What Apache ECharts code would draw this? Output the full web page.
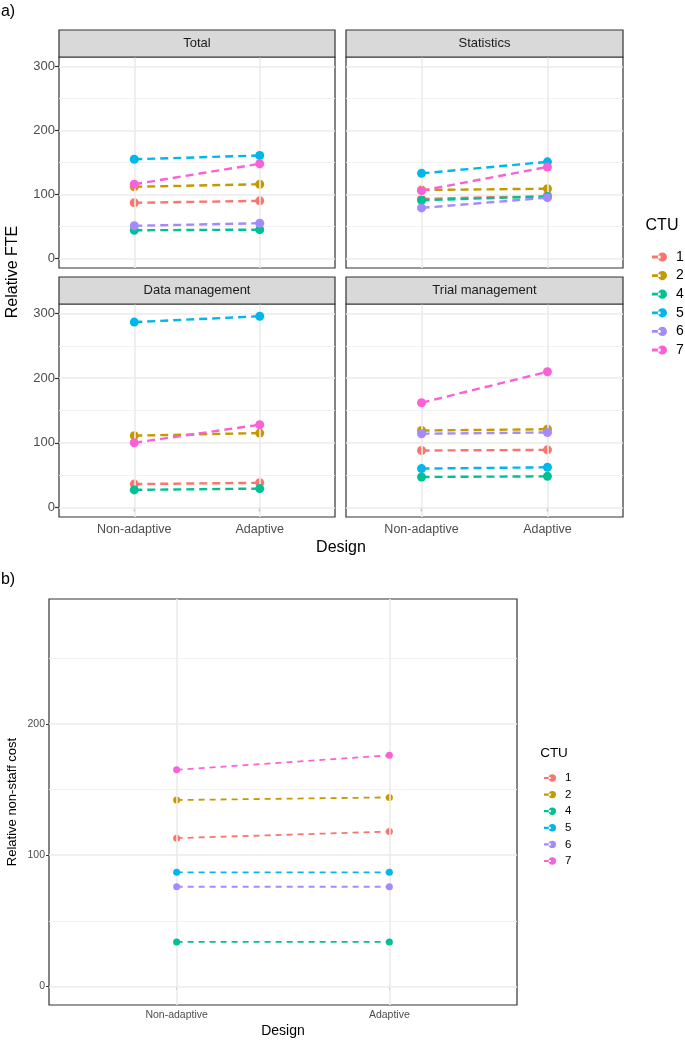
<!DOCTYPE html>
<html>
<head>
<meta charset="utf-8">
<script src="https://cdn.jsdelivr.net/npm/echarts@6/dist/echarts.min.js"></script>
<style>
html,body{margin:0;padding:0;background:#fff;}
#chart{width:685px;height:1040px;}
</style>
</head>
<body>
<div id="chart"></div>
<script>
// ---- data ----
const ctus = ['1', '2', '4', '5', '6', '7'];
const designs = ['Non-adaptive', 'Adaptive'];
const ctuColors = ['#F8766D', '#C49A00', '#00C094', '#00B6EB', '#A58AFF', '#FB61D7'];
const facetNames = ['Total', 'Statistics', 'Data management', 'Trial management'];
const fteTicks = [0, 100, 200, 300];
const costTicks = [0, 100, 200];

const totalNon = [87, 112, 44, 155, 51, 116];
const totalAdp = [90, 116, 45, 161, 55, 148];
const statNon = [93, 107, 91, 133, 79, 106];
const statAdp = [98, 109, 97, 151, 95, 143];
const dmNon = [36, 111, 27, 287, null, 100];
const dmAdp = [38, 115, 29, 296, null, 128];
const tmNon = [88, 119, 47, 60, 114, 162];
const tmAdp = [89, 121, 48, 62, 116, 210];
const costNon = [113, 142, 34, 87, 76, 165];
const costAdp = [118, 144, 34, 87, 76, 176];

// ---- layout ----
const FONT = "'Liberation Sans', Arial, sans-serif";
const KEY_ICON = 'path://M0,3.7L8,3.7L8,6.3L0,6.3Z M5.4,5a4.3,4.3 0 1,0 8.6,0a4.3,4.3 0 1,0 -8.6,0Z';
const panels = [
  {left: 59, top: 57, width: 276, height: 211, non: totalNon, adp: totalAdp, yLab: true, xLab: false},
  {left: 346, top: 57, width: 277, height: 211, non: statNon, adp: statAdp, yLab: false, xLab: false},
  {left: 59, top: 304, width: 276, height: 213, non: dmNon, adp: dmAdp, yLab: true, xLab: true},
  {left: 346, top: 304, width: 277, height: 213, non: tmNon, adp: tmAdp, yLab: false, xLab: true}
];
const panelB = {left: 49, top: 599, width: 468, height: 406};

const grids = [], xAxes = [], yAxes = [], series = [], graphics = [];

function xLabel(v) { return designs[Math.round(v) - 1] || ''; }

function addGridLines(gi, majors, minors) {
  const md = [];
  majors.forEach(v => md.push({yAxis: v, lineStyle: {color: '#EBEBEB', width: 1.6, type: 'solid'}}));
  minors.forEach(v => md.push({yAxis: v, lineStyle: {color: '#F2F2F2', width: 0.9, type: 'solid'}}));
  designs.forEach((d, i) => md.push({xAxis: i + 1, lineStyle: {color: '#EBEBEB', width: 1.6, type: 'solid'}}));
  series.push({
    type: 'line', xAxisIndex: gi, yAxisIndex: gi, data: [], silent: true, z: 1,
    markLine: {silent: true, symbol: 'none', label: {show: false}, animation: false, data: md}
  });
}

function addSeries(gi, non, adp, lw, dash, size) {
  ctus.forEach((c, i) => {
    series.push({
      type: 'line', name: c, xAxisIndex: gi, yAxisIndex: gi, z: 3 + i,
      data: [[1, non[i]], [2, adp[i]]],
      symbol: 'circle', symbolSize: size, showSymbol: true,
      lineStyle: {color: ctuColors[i], width: lw, type: dash},
      itemStyle: {color: ctuColors[i]},
      emphasis: {disabled: true}, animation: false
    });
  });
}

panels.forEach((p, gi) => {
  grids.push({left: p.left, top: p.top, width: p.width, height: p.height, show: true,
    borderColor: '#333333', borderWidth: 1.2, backgroundColor: '#fff', containLabel: false});
  xAxes.push({type: 'value', gridIndex: gi, min: 0.4, max: 2.6,
    axisLine: {show: false}, splitLine: {show: false},
    axisTick: {show: p.xLab, customValues: [1, 2], length: 4, lineStyle: {color: '#333', width: 1.2}},
    axisLabel: {show: p.xLab, customValues: [1, 2], formatter: xLabel, color: '#4D4D4D', fontSize: 12.5, fontFamily: FONT, margin: 6}});
  yAxes.push({type: 'value', gridIndex: gi, min: -15, max: 315,
    axisLine: {show: false}, splitLine: {show: false},
    axisTick: {show: p.yLab, customValues: fteTicks, length: 4, lineStyle: {color: '#333', width: 1.2}},
    axisLabel: {show: p.yLab, customValues: fteTicks, color: '#4D4D4D', fontSize: 13, fontFamily: FONT, margin: 4}});
  addGridLines(gi, fteTicks, [50, 150, 250]);
  addSeries(gi, p.non, p.adp, 2.4, [8, 5], 9);
  // strip
  graphics.push({type: 'rect', shape: {x: p.left, y: p.top - 27, width: p.width, height: 27},
    style: {fill: '#D9D9D9', stroke: '#333333', lineWidth: 1.2}, z: 10});
  graphics.push({type: 'text', x: p.left + p.width / 2, y: p.top - 13.5, z: 11,
    style: {text: facetNames[gi], fill: '#1A1A1A', font: '13px ' + FONT, textAlign: 'center', textVerticalAlign: 'middle'}});
});

// panel b
grids.push({left: panelB.left, top: panelB.top, width: panelB.width, height: panelB.height, show: true,
  borderColor: '#333333', borderWidth: 1.2, backgroundColor: '#fff'});
xAxes.push({type: 'value', gridIndex: 4, min: 0.4, max: 2.6,
  axisLine: {show: false}, splitLine: {show: false},
  axisTick: {show: true, customValues: [1, 2], length: 3, lineStyle: {color: '#333', width: 1}},
  axisLabel: {show: true, customValues: [1, 2], formatter: xLabel, color: '#4D4D4D', fontSize: 10.5, fontFamily: FONT, margin: 5}});
yAxes.push({type: 'value', gridIndex: 4, min: -14, max: 295,
  axisLine: {show: false}, splitLine: {show: false},
  axisTick: {show: true, customValues: costTicks, length: 3, lineStyle: {color: '#333', width: 1}},
  axisLabel: {show: true, customValues: costTicks, color: '#4D4D4D', fontSize: 10.5, fontFamily: FONT, margin: 4}});
addGridLines(4, costTicks, [50, 150, 250]);
addSeries(4, costNon, costAdp, 1.8, [6, 5], 7);

// texts
function txt(x, y, s, size, opts) {
  graphics.push(Object.assign({type: 'text', x: x, y: y, z: 20,
    style: {text: s, fill: '#000', font: size + 'px ' + FONT, textAlign: 'center', textVerticalAlign: 'middle'}}, opts || {}));
}
txt(8, 12, 'a)', 16);
txt(8, 580, 'b)', 16);
txt(13, 272, 'Relative FTE', 16, {rotation: Math.PI / 2});
txt(341, 548, 'Design', 16);
txt(12, 802, 'Relative non-staff cost', 13, {rotation: Math.PI / 2});
txt(283, 1031, 'Design', 14);
txt(662, 226, 'CTU', 16);
txt(554, 753, 'CTU', 13.5);

const legendItemStyle = {borderWidth: 0};
const legendLineStyle = {width: 0};
const option = {
  animation: false,
  backgroundColor: '#fff',
  grid: grids,
  xAxis: xAxes,
  yAxis: yAxes,
  series: series,
  graphic: graphics,
  legend: [
    {data: ctus, orient: 'vertical', left: 647, top: 245, icon: KEY_ICON, itemWidth: 15, itemHeight: 10, itemGap: 4.6,
      itemStyle: legendItemStyle, lineStyle: legendLineStyle,
      selectedMode: false, textStyle: {fontSize: 14, fontFamily: FONT, color: '#000', lineHeight: 14, padding: [0, 0, 0, 4]}},
    {data: ctus, orient: 'vertical', left: 539, top: 767, icon: KEY_ICON, itemWidth: 12, itemHeight: 8, itemGap: 4.6,
      itemStyle: legendItemStyle, lineStyle: legendLineStyle,
      selectedMode: false, textStyle: {fontSize: 11.5, fontFamily: FONT, color: '#000', lineHeight: 11, padding: [0, 0, 0, 4]}}
  ]
};

const chart = echarts.init(document.getElementById('chart'), null, {renderer: 'canvas'});
chart.setOption(option);
</script>
</body>
</html>
